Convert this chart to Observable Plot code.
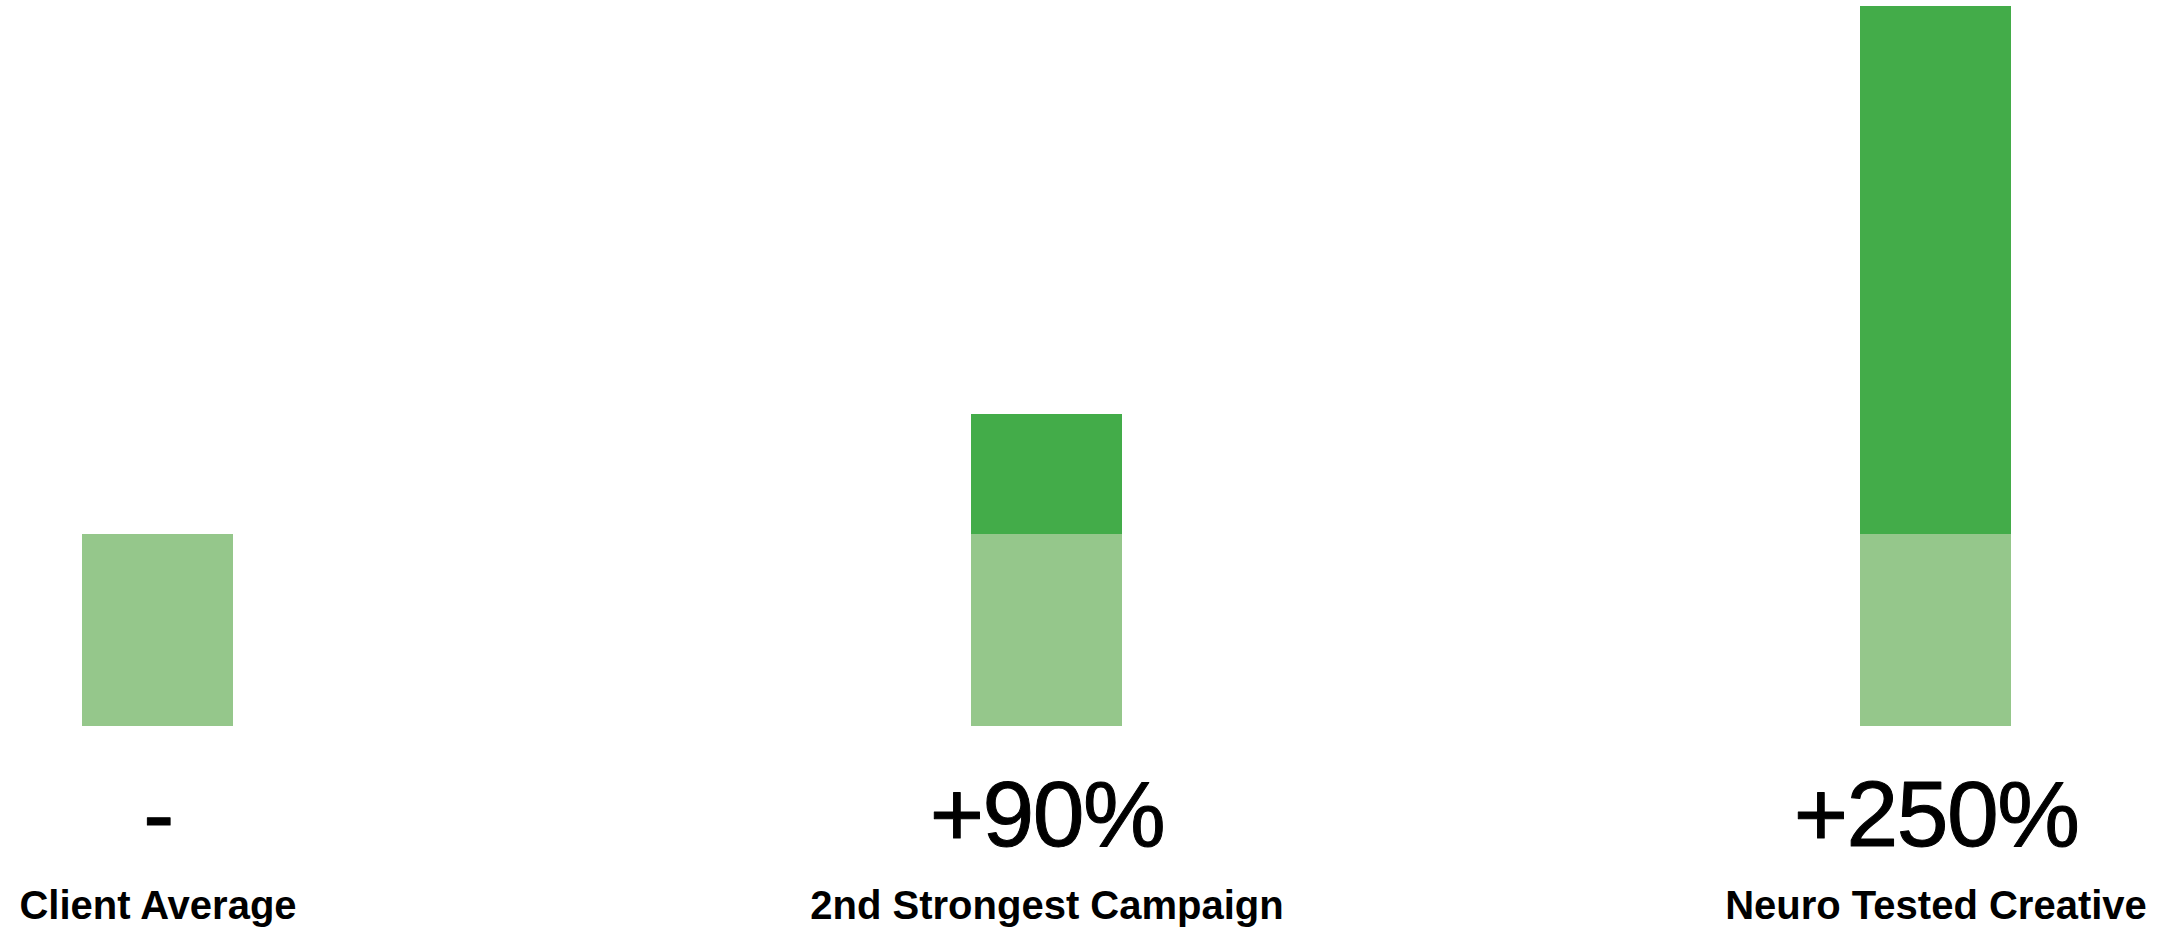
<!DOCTYPE html>
<html>
<head>
<meta charset="utf-8">
<script src="https://cdn.jsdelivr.net/npm/d3@7"></script>
<script src="https://cdn.jsdelivr.net/npm/@observablehq/plot@0.6"></script>
<style>
  html, body { margin: 0; padding: 0; background: #ffffff; }
  #chart svg { display: block; }
</style>
</head>
<body>
<div id="chart"></div>
<script>
const categories = ["Client Average", "2nd Strongest Campaign", "Neuro Tested Creative"];
const baseValues = [100, 100, 100];
const upliftValues = [0, 62.5, 275];
const percentLabels = ["-", "+90%", "+250%"];
const segments = ["Base", "Uplift"];
const segmentColors = ["#95c78b", "#43ac49"];

const rows = [];
categories.forEach((c, i) => {
  rows.push({category: c, segment: segments[0], value: baseValues[i]});
  rows.push({category: c, segment: segments[1], value: upliftValues[i]});
});
const labelRows = categories.map((c, i) => ({category: c, label: percentLabels[i]}));

const chart = Plot.plot({
  width: 2167,
  height: 931,
  marginLeft: 81,
  marginRight: 156,
  marginTop: 6,
  marginBottom: 205,
  style: {fontFamily: "'Liberation Sans', Arial, Helvetica, sans-serif", background: "#ffffff"},
  x: {domain: categories, paddingInner: 0.8302, paddingOuter: 0, axis: null},
  y: {domain: [0, 375], axis: null},
  color: {domain: segments, range: segmentColors},
  marks: [
    Plot.barY(rows, {x: "category", y: "value", fill: "segment", order: segments}),
    Plot.text(labelRows, {x: "category", y: () => 0, text: "label", lineAnchor: "bottom", dy: 119, fontSize: 93, fill: "#000000", stroke: "#000000", strokeWidth: 1, className: "pct"}),
    Plot.text(labelRows, {x: "category", y: () => 0, text: "category", lineAnchor: "bottom", dy: 192, fontSize: 40, fontWeight: "bold", fill: "#000000"})
  ]
});
document.getElementById("chart").appendChild(chart);
d3.select(chart).selectAll("g[aria-label='text']").filter((d, i) => i === 0).attr("letter-spacing", "-1.5px");
</script>
</body>
</html>
